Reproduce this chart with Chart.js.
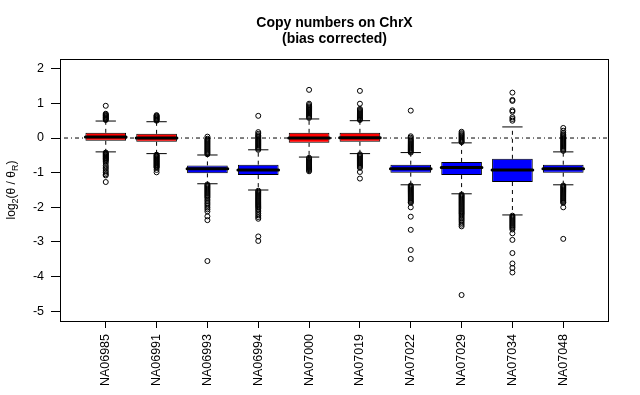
<!DOCTYPE html>
<html>
<head>
<meta charset="utf-8">
<script src="https://cdn.jsdelivr.net/npm/chart.js@4/dist/chart.umd.min.js"></script>
<style>
  html, body { margin: 0; padding: 0; background: #fff; }
  #wrap { width: 640px; height: 395px; position: relative; }
</style>
</head>
<body>
<div id="wrap"><canvas id="boxChart"></canvas></div>
<script>
const samples = ["NA06985", "NA06991", "NA06993", "NA06994", "NA07000",
                 "NA07019", "NA07022", "NA07029", "NA07034", "NA07048"];

const whiskerLow  = [-0.40, -0.45, -1.32, -1.50, -0.55, -0.45, -1.35, -1.61, -2.22, -1.35];
const lowerQuart  = [-0.08, -0.11, -1.02, -1.07, -0.14, -0.11, -1.00, -1.07, -1.27, -1.00];
const medians     = [ 0.03,  0.00, -0.89, -0.92,  0.00,  0.01, -0.89, -0.85, -0.92, -0.89];
const upperQuart  = [ 0.15,  0.12, -0.79, -0.77,  0.15,  0.15, -0.77, -0.69, -0.60, -0.77];
const whiskerHigh = [ 0.49,  0.47, -0.49, -0.34,  0.55,  0.50, -0.42, -0.14,  0.32, -0.40];

const outliers = [
  // NA06985
  [0.93, 0.70, 0.68, 0.66, 0.64, 0.62, 0.60, 0.58, 0.56, 0.54, 0.52,
   -0.42, -0.44, -0.46, -0.48, -0.50, -0.52, -0.54, -0.56, -0.58, -0.60, -0.62, -0.64, -0.67,
   -0.72, -0.79, -0.84, -0.89, -0.95, -1.00, -1.05, -1.08, -1.27],
  // NA06991
  [0.66, 0.64, 0.62, 0.60, 0.58, 0.56, 0.54, 0.52, 0.50,
   -0.48, -0.50, -0.52, -0.54, -0.56, -0.58, -0.60, -0.62, -0.64, -0.66, -0.68, -0.70, -0.72,
   -0.74, -0.76, -0.78, -0.80, -0.82, -0.84, -0.86, -0.92, -0.99],
  // NA06993
  [0.04, -0.02, -0.05, -0.08, -0.11, -0.14, -0.17, -0.20, -0.23, -0.26, -0.29, -0.32, -0.35,
   -0.38, -0.41, -0.44, -0.47,
   -1.34, -1.37, -1.40, -1.43, -1.46, -1.49, -1.52, -1.55, -1.58, -1.61, -1.64, -1.67, -1.70, -1.73,
   -1.78, -1.82, -1.87, -1.91, -1.96, -2.01, -2.06, -2.12, -2.26, -2.37, -3.55],
  // NA06994
  [0.64, 0.17, 0.12, 0.08, 0.05, 0.02, -0.01, -0.04, -0.07, -0.10, -0.13, -0.16, -0.19, -0.22,
   -0.25, -0.28, -0.31, -0.34,
   -1.52, -1.55, -1.58, -1.61, -1.64, -1.67, -1.70, -1.73, -1.76, -1.79, -1.82, -1.85, -1.88,
   -1.91, -1.94, -1.97, -2.00, -2.04, -2.08, -2.13, -2.18, -2.23, -2.28, -2.33, -2.84, -2.97],
  // NA07000
  [1.39, 0.99, 0.95, 0.91, 0.88, 0.85, 0.82, 0.79, 0.76, 0.73, 0.70, 0.67, 0.64, 0.61, 0.58,
   -0.57, -0.60, -0.63, -0.66, -0.69, -0.72, -0.75, -0.78, -0.81, -0.84, -0.87, -0.90, -0.93, -0.96],
  // NA07019
  [1.36, 0.99, 0.84, 0.81, 0.78, 0.75, 0.72, 0.69, 0.66, 0.63, 0.60, 0.57, 0.54, 0.52,
   -0.47, -0.50, -0.53, -0.56, -0.59, -0.62, -0.65, -0.68, -0.71, -0.74, -0.77, -0.80, -0.83, -0.86,
   -0.98, -1.17],
  // NA07022
  [0.79, 0.05, 0.01, -0.03, -0.06, -0.09, -0.12, -0.15, -0.18, -0.21, -0.24, -0.27, -0.30, -0.33,
   -0.36, -0.39, -0.42,
   -1.37, -1.40, -1.43, -1.46, -1.49, -1.52, -1.55, -1.58, -1.61, -1.64, -1.67, -1.70, -1.73,
   -1.76, -1.79, -1.82, -1.85, -1.87, -2.00, -2.27, -2.65, -3.23, -3.49],
  // NA07029
  [0.18, 0.14, 0.11, 0.08, 0.05, 0.02, -0.01, -0.04, -0.07, -0.10, -0.12,
   -1.63, -1.66, -1.69, -1.72, -1.75, -1.78, -1.81, -1.84, -1.87, -1.90, -1.93, -1.96, -1.99,
   -2.02, -2.05, -2.08, -2.11, -2.14, -2.17, -2.20, -2.24, -2.28, -2.32, -2.36, -2.40, -2.45,
   -2.50, -2.55, -4.53],
  // NA07034
  [1.31, 1.10, 1.07, 0.80, 0.76, 0.60, 0.55, 0.50,
   -2.24, -2.27, -2.30, -2.33, -2.36, -2.39, -2.42, -2.45, -2.48, -2.51, -2.54, -2.57, -2.60,
   -2.64, -2.75, -2.94, -3.32, -3.62, -3.75, -3.88],
  // NA07048
  [0.29, 0.21, 0.15, 0.11, 0.08, 0.05, 0.02, -0.01, -0.04, -0.07, -0.10, -0.13, -0.16, -0.19,
   -0.22, -0.25, -0.28, -0.31, -0.34, -0.37,
   -1.37, -1.40, -1.43, -1.46, -1.49, -1.52, -1.55, -1.58, -1.61, -1.64, -1.67, -1.70, -1.73,
   -1.76, -1.79, -1.82, -1.85, -1.87, -2.00, -2.91]
];

const yTicks = [-5, -4, -3, -2, -1, 0, 1, 2];
const boxColors = ["#ff0000", "#ff0000", "#0000ff", "#0000ff", "#ff0000",
                   "#ff0000", "#0000ff", "#0000ff", "#0000ff", "#0000ff"];

const FONT = "'Liberation Sans', Arial, Helvetica, sans-serif";

// build segment lists, a null point breaks the line between segments
function segments(build) {
  const pts = [];
  samples.forEach((s, i) => {
    build(i + 1, i).forEach(seg => {
      pts.push(seg[0], seg[1], { x: i + 1, y: null });
    });
  });
  return pts;
}

const stemPoints = segments((x, i) => [
  [{ x: x, y: upperQuart[i] }, { x: x, y: whiskerHigh[i] }],
  [{ x: x, y: lowerQuart[i] }, { x: x, y: whiskerLow[i] }]
]);
const capPoints = segments((x, i) => [
  [{ x: x - 0.2, y: whiskerHigh[i] }, { x: x + 0.2, y: whiskerHigh[i] }],
  [{ x: x - 0.2, y: whiskerLow[i] }, { x: x + 0.2, y: whiskerLow[i] }]
]);
const medianPoints = segments((x, i) => [
  [{ x: x - 0.4, y: medians[i] }, { x: x + 0.4, y: medians[i] }]
]);
const outlierPoints = [];
outliers.forEach((list, i) => list.forEach(v => outlierPoints.push({ x: i + 1, y: v })));

const plotFrame = {
  id: "plotFrame",
  afterDraw(chart) {
    const { ctx, chartArea: a } = chart;
    ctx.save();
    ctx.strokeStyle = "#000";
    ctx.lineWidth = 1;
    ctx.strokeRect(Math.round(a.left) + 0.5, Math.round(a.top) + 0.5,
                   Math.round(a.right - a.left) - 1, Math.round(a.bottom - a.top));

    // main title
    const cx = (a.left + a.right) / 2;
    ctx.fillStyle = "#000";
    ctx.textAlign = "center";
    ctx.textBaseline = "alphabetic";
    ctx.font = "bold 14px " + FONT;
    ctx.fillText("Copy numbers on ChrX", cx, 27);
    ctx.fillText("(bias corrected)", cx, 43);

    // y axis title with subscripts
    const parts = [
      ["log", 12, 0], ["2", 9, 3], ["(\u03B8 / \u03B8", 12, 0], ["R", 9, 3], [")", 12, 0]
    ];
    ctx.translate(15, (a.top + a.bottom) / 2);
    ctx.rotate(-Math.PI / 2);
    let total = 0;
    parts.forEach(p => { ctx.font = p[1] + "px " + FONT; total += ctx.measureText(p[0]).width; });
    let x = -total / 2;
    ctx.textAlign = "left";
    parts.forEach(p => {
      ctx.font = p[1] + "px " + FONT;
      ctx.fillText(p[0], x, p[2]);
      x += ctx.measureText(p[0]).width;
    });
    ctx.restore();
  }
};

new Chart(document.getElementById("boxChart"), {
  type: "bar",
  data: {
    datasets: [
      {
        type: "scatter",
        data: [{ x: 0.1, y: 0 }, { x: 10.9, y: 0 }],
        showLine: true,
        borderColor: "#000",
        borderWidth: 1,
        borderDash: [1, 3, 4, 3],
        pointRadius: 0,
        order: 10
      },
      {
        type: "scatter",
        data: stemPoints,
        showLine: true,
        spanGaps: false,
        borderColor: "#000",
        borderWidth: 1,
        borderDash: [4, 4],
        pointRadius: 0,
        order: 9
      },
      {
        type: "scatter",
        data: capPoints,
        showLine: true,
        spanGaps: false,
        borderColor: "#000",
        borderWidth: 1,
        pointRadius: 0,
        order: 8
      },
      {
        type: "bar",
        data: samples.map((s, i) => ({ x: i + 1, y: [lowerQuart[i], upperQuart[i]] })),
        backgroundColor: boxColors,
        borderColor: "#000",
        borderWidth: 1,
        borderSkipped: false,
        barPercentage: 0.8,
        categoryPercentage: 1.0,
        order: 5
      },
      {
        type: "scatter",
        data: outlierPoints,
        pointStyle: "circle",
        pointRadius: 2.5,
        pointBorderWidth: 1,
        pointBorderColor: "#000",
        pointBackgroundColor: "rgba(0,0,0,0)",
        order: 2
      },
      {
        type: "scatter",
        data: medianPoints,
        showLine: true,
        spanGaps: false,
        borderColor: "#000",
        borderWidth: 3,
        borderCapStyle: "round",
        pointRadius: 0,
        order: 1
      }
    ]
  },
  options: {
    responsive: true,
    maintainAspectRatio: false,
    animation: false,
    layout: { padding: { top: 59, right: 31, left: 0, bottom: 0 } },
    plugins: {
      legend: { display: false },
      tooltip: { enabled: false },
      title: { display: false }
    },
    scales: {
      x: {
        type: "linear",
        position: "bottom",
        offset: false,
        min: 0.1,
        max: 10.9,
        afterBuildTicks: scale => { scale.ticks = samples.map((s, i) => ({ value: i + 1 })); },
        afterFit: scale => { scale.height = 74; },
        ticks: {
          autoSkip: false,
          minRotation: 90,
          maxRotation: 90,
          padding: 6,
          color: "#000",
          font: { family: FONT, size: 12.5 },
          callback: v => samples[v - 1]
        },
        grid: { offset: false, drawOnChartArea: false, drawTicks: true, tickLength: 7, color: "#000" },
        border: { display: false }
      },
      y: {
        type: "linear",
        min: -5.28,
        max: 2.28,
        afterBuildTicks: scale => { scale.ticks = yTicks.map(v => ({ value: v })); },
        afterFit: scale => { scale.width = 60; },
        ticks: {
          padding: 7,
          color: "#000",
          font: { family: FONT, size: 12.5 }
        },
        grid: { drawOnChartArea: false, drawTicks: true, tickLength: 9, color: "#000" },
        border: { display: false }
      }
    }
  },
  plugins: [plotFrame]
});
</script>
</body>
</html>
